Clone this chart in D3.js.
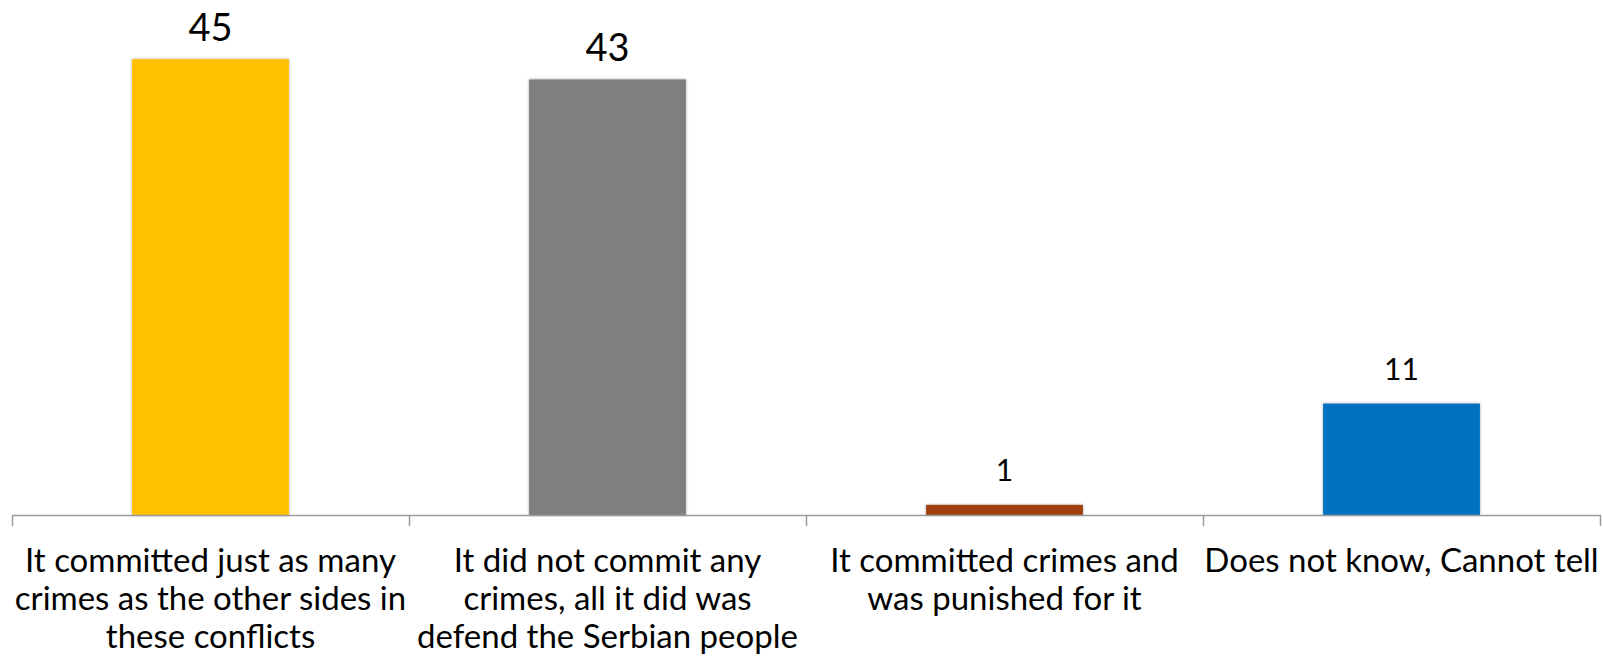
<!DOCTYPE html>
<html><head><meta charset="utf-8">
<script src="https://cdn.jsdelivr.net/npm/d3@7"></script>
<style>body{margin:0;background:#fff;}svg{display:block;}</style>
</head><body>
<svg id="chart" width="1603" height="662"></svg>
<script>
const categories = [
  "It committed just as many crimes as the other sides in these conflicts",
  "It did not commit any crimes, all it did was defend the Serbian people",
  "It committed crimes and was punished for it",
  "Does not know, Cannot tell"
];
const categoryLines = [
  ["It committed just as many", "crimes as the other sides in", "these conflicts"],
  ["It did not commit any", "crimes, all it did was", "defend the Serbian people"],
  ["It committed crimes and", "was punished for it"],
  ["Does not know, Cannot tell"]
];
const values = [45, 43, 1, 11];
const barColors = ["#FFC000", "#7F7F7F", "#A0410B", "#0070C0"];
const labelSizes = [38, 38, 30, 30];
const labelGaps = [18, 18, 24, 24];

const svg = d3.select("#chart");
const left = 12, right = 1600, baseY = 515;

const x = d3.scaleBand().domain(categories).range([left, right])
  .paddingInner(0.605).paddingOuter(0.3025);
const y = d3.scaleLinear().domain([0, 50]).range([baseY, baseY - 506.5]);

const defs = svg.append("defs");
const f = defs.append("filter").attr("id", "sh").attr("x", "-10%").attr("y", "-10%").attr("width", "120%").attr("height", "120%");
f.append("feDropShadow").attr("dx", 0).attr("dy", 0).attr("stdDeviation", 1.6)
  .attr("flood-color", "#000").attr("flood-opacity", 0.35);

svg.append("g").selectAll("rect").data(values).join("rect")
  .attr("x", (d, i) => x(categories[i]))
  .attr("width", x.bandwidth())
  .attr("y", d => y(d))
  .attr("height", d => baseY - y(d))
  .attr("fill", (d, i) => barColors[i])
  .attr("filter", "url(#sh)");

// axis with ticks at band boundaries
const bx = d3.scaleLinear().domain([0, categories.length]).range([left, right]);
const axis = svg.append("g").attr("transform", `translate(0,${baseY})`)
  .call(d3.axisBottom(bx).tickValues(d3.range(categories.length + 1)).tickFormat("").tickSize(11).tickSizeOuter(0));
axis.select(".domain").attr("stroke", "#9a9a9a").attr("stroke-width", 1.5);
axis.selectAll(".tick line").attr("stroke", "#9a9a9a").attr("stroke-width", 1.5);

// value labels
svg.append("g").selectAll("text").data(values).join("text")
  .attr("x", (d, i) => x(categories[i]) + x.bandwidth() / 2)
  .attr("y", (d, i) => y(d) - labelGaps[i])
  .attr("text-anchor", "middle")
  .attr("font-family", "Lato, sans-serif")
  .attr("font-size", (d, i) => labelSizes[i])
  .attr("fill", "#000")
  .text(d => d);

// category labels
const cl = svg.append("g").selectAll("text").data(categories).join("text")
  .attr("x", d => x(d) + x.bandwidth() / 2)
  .attr("y", 560)
  .attr("text-anchor", "middle")
  .attr("font-family", "Lato, sans-serif")
  .attr("font-size", 33)
  .attr("fill", "#000");
cl.each(function (d, i) {
  d3.select(this).selectAll("tspan").data(categoryLines[i]).join("tspan")
    .attr("x", x(d) + x.bandwidth() / 2)
    .attr("dy", (t, j) => j === 0 ? 12 : 38)
    .text(t => t);
});
</script>
</body></html>
